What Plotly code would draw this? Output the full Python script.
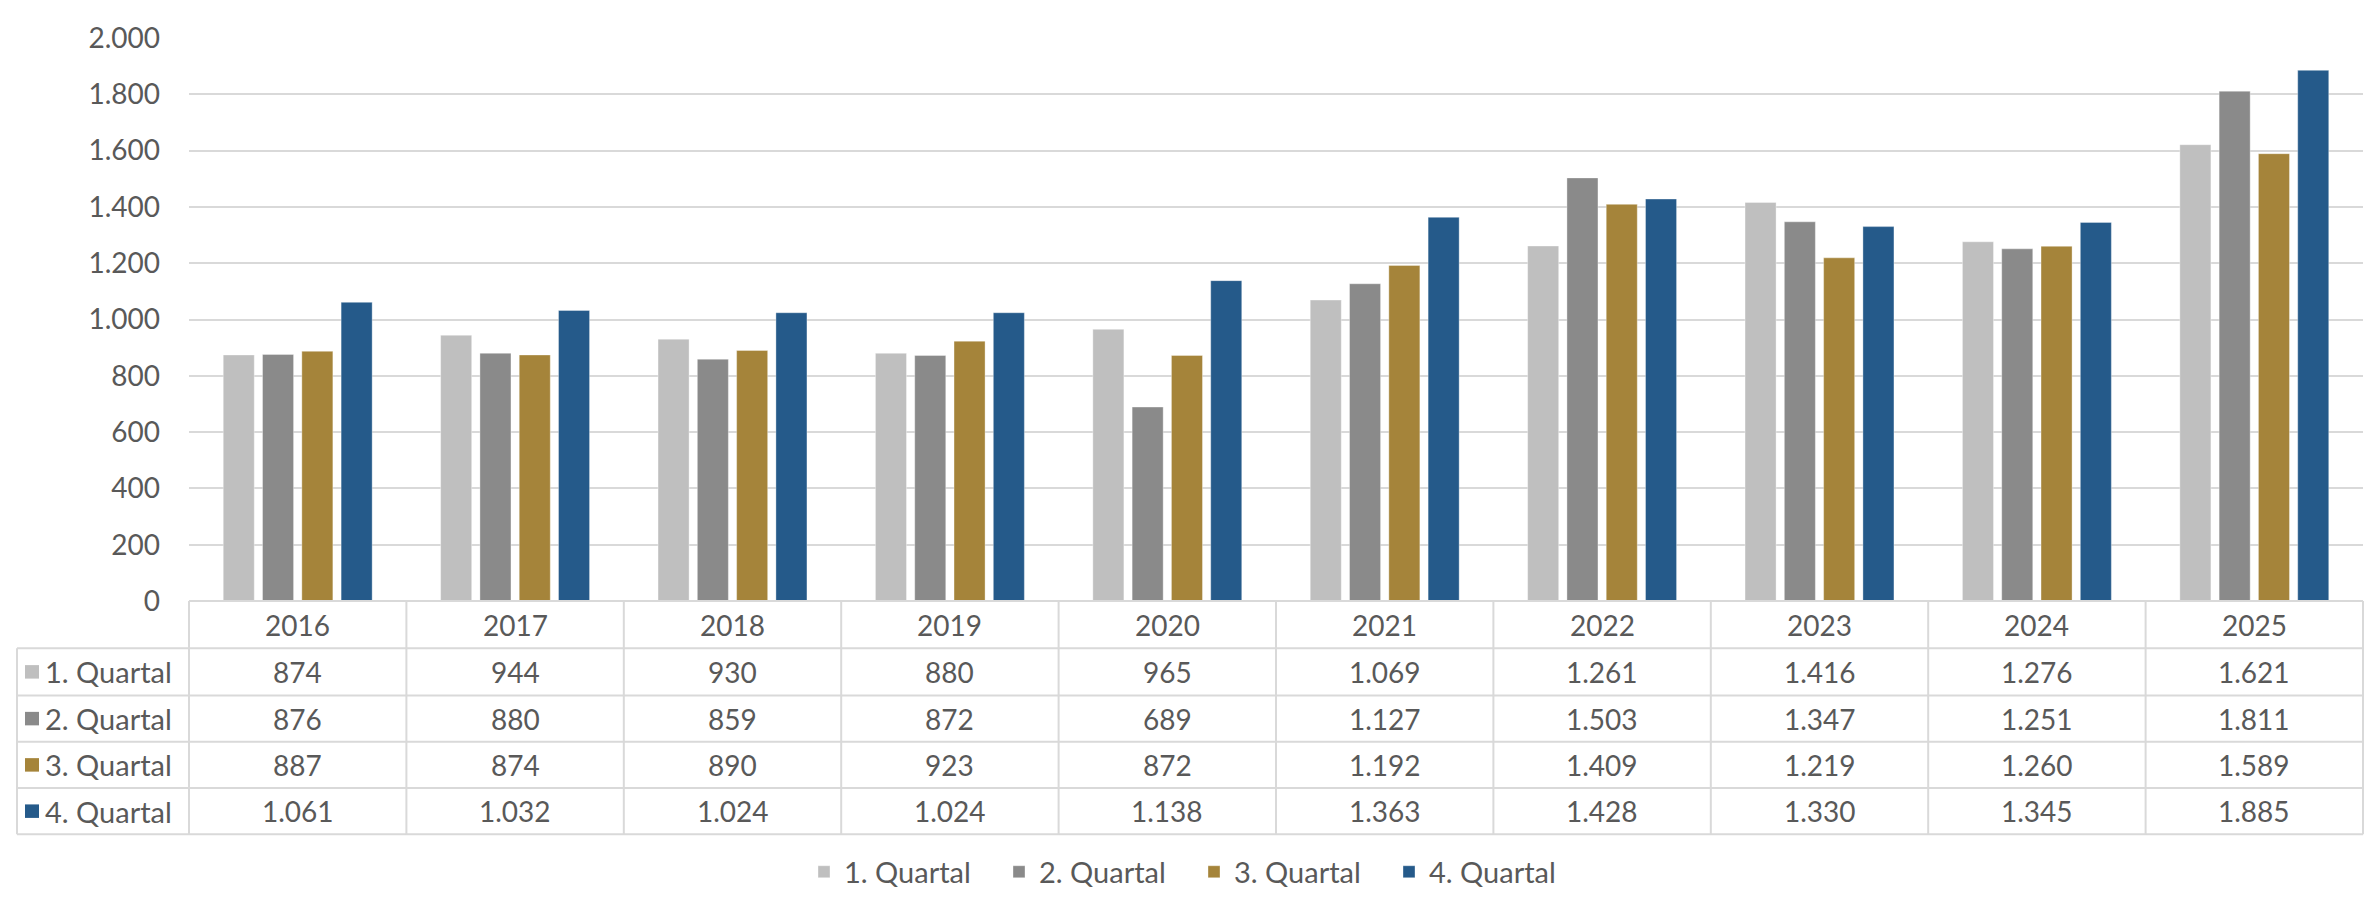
import plotly.graph_objects as go

years = ["2016", "2017", "2018", "2019", "2020", "2021", "2022", "2023", "2024", "2025"]
series_names = ["1. Quartal", "2. Quartal", "3. Quartal", "4. Quartal"]
q1 = [874, 944, 930, 880, 965, 1069, 1261, 1416, 1276, 1621]
q2 = [876, 880, 859, 872, 689, 1127, 1503, 1347, 1251, 1811]
q3 = [887, 874, 890, 923, 872, 1192, 1409, 1219, 1260, 1589]
q4 = [1061, 1032, 1024, 1024, 1138, 1363, 1428, 1330, 1345, 1885]
series_values = [q1, q2, q3, q4]
colors = ["#BFBFBF", "#8A8A8A", "#A5843A", "#255A8A"]
y_ticks = [0, 200, 400, 600, 800, 1000, 1200, 1400, 1600, 1800, 2000]

W, H = 2374, 901
L, R, T, B = 181, 2355, 20, 604
FONT = "Lato"
TXT = "#595959"
GRID = "#D9D9D9"


def px_x(px):
    return (px - L) / (R - L)


def px_y(py):
    return (B - py) / (B - T)


def fmt(v):
    return f"{v:,}".replace(",", ".")


fig = go.Figure()
for name, vals, col in zip(series_names, series_values, colors):
    fig.add_trace(go.Bar(
        x=years, y=vals, name=name,
        marker=dict(color=col, line=dict(color="rgba(255,255,255,0.35)", width=1)),
    ))

shapes = []
annotations = []
row_bounds = [604, 653, 702, 750, 798, 846]
table_left = 9
line = dict(color=GRID, width=2)

# horizontal lines of the data table
for i, yb in enumerate(row_bounds):
    x0 = 0 if i == 0 else px_x(table_left)
    shapes.append(dict(type="line", xref="paper", yref="paper",
                       x0=x0, x1=1, y0=px_y(yb), y1=px_y(yb), line=line))
# vertical lines
shapes.append(dict(type="line", xref="paper", yref="paper",
                   x0=px_x(table_left), x1=px_x(table_left),
                   y0=px_y(row_bounds[1]), y1=px_y(row_bounds[-1]), line=line))
n = len(years)
for k in range(n + 1):
    xp = k / n
    shapes.append(dict(type="line", xref="paper", yref="paper",
                       x0=xp, x1=xp,
                       y0=px_y(row_bounds[0]), y1=px_y(row_bounds[-1]), line=line))

# category header row
cy = (row_bounds[0] + row_bounds[1]) / 2
for k, yr in enumerate(years):
    annotations.append(dict(x=k, xref="x", y=px_y(cy), yref="paper", text=yr,
                            showarrow=False, xanchor="center", yanchor="middle",
                            font=dict(family=FONT, size=28, color=TXT)))

# data rows
for r, (name, vals, col) in enumerate(zip(series_names, series_values, colors)):
    ry = (row_bounds[r + 1] + row_bounds[r + 2]) / 2
    shapes.append(dict(type="rect", xref="paper", yref="paper",
                       x0=px_x(17), x1=px_x(31), y0=px_y(ry - 7), y1=px_y(ry + 7),
                       fillcolor=col, line=dict(width=0)))
    annotations.append(dict(x=px_x(35), xref="paper", y=px_y(ry), yref="paper", text=name,
                            showarrow=False, xanchor="left", yanchor="middle",
                            font=dict(family=FONT, size=29, color=TXT)))
    for k, v in enumerate(vals):
        annotations.append(dict(x=k, xref="x", y=px_y(ry), yref="paper", text=fmt(v),
                                showarrow=False, xanchor="center", yanchor="middle",
                                font=dict(family=FONT, size=28, color=TXT)))

fig.update_layout(
    width=W, height=H,
    margin=dict(l=L, r=W - R, t=T, b=H - B, pad=0),
    paper_bgcolor="white", plot_bgcolor="white",
    separators=",.",
    barmode="group", bargap=0.277, bargroupgap=0.21,
    font=dict(family=FONT, size=28, color=TXT),
    showlegend=True,
    legend=dict(orientation="h", x=px_x(796), xanchor="left", y=px_y(885), yanchor="middle",
                font=dict(family=FONT, size=29, color=TXT), itemwidth=30,
                entrywidth=150, entrywidthmode="pixels",
                bgcolor="rgba(0,0,0,0)"),
    shapes=shapes, annotations=annotations,
)
fig.update_xaxes(showticklabels=False, ticks="", showgrid=False, showline=False,
                 zeroline=False, type="category", range=[-0.5, n - 0.5])
fig.update_yaxes(range=[0, 2000], tickvals=y_ticks, tickformat=",d",
                 showgrid=True, gridcolor=GRID, gridwidth=2, zeroline=False,
                 ticks="", ticklabelstandoff=28, showline=False,
                 tickfont=dict(family=FONT, size=28, color=TXT))

fig.write_html("out.html")
